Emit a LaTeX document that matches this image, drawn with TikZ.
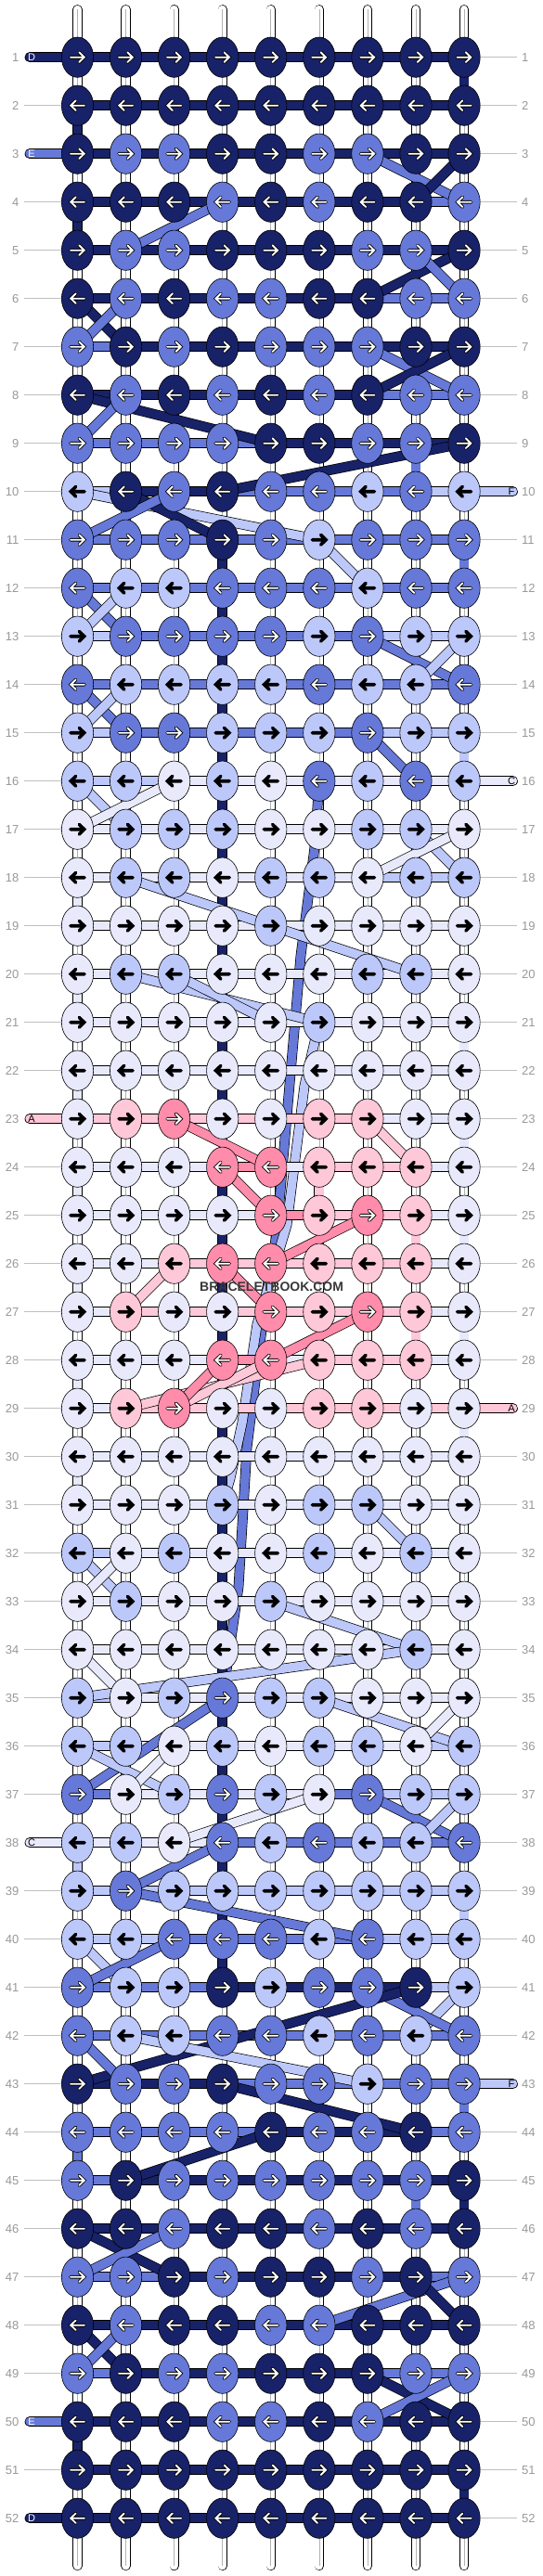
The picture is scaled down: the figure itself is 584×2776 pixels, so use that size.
\documentclass[tikz,border=0pt]{standalone}
\usepackage{fontspec}
\setmainfont{Liberation Sans}
\usetikzlibrary{shapes.geometric}

\definecolor{kN}{RGB}{24,34,104}
\definecolor{kM}{RGB}{102,121,216}
\definecolor{kL}{RGB}{189,200,250}
\definecolor{kW}{RGB}{232,234,252}
\definecolor{kP}{RGB}{255,200,216}
\definecolor{kR}{RGB}{255,140,170}
\colorlet{aN}{white}
\colorlet{aM}{white}
\colorlet{aR}{white}
\colorlet{aL}{black}
\colorlet{aW}{black}
\colorlet{aP}{black}

\pgfdeclarelayer{strips}
\pgfdeclarelayer{long}
\pgfdeclarelayer{bars}
\pgfdeclarelayer{diag}
\pgfsetlayers{strips,long,bars,diag,main}

\begin{document}
\begin{tikzpicture}[
  x=1pt, y=-1pt,
  knot/.style={ellipse, draw=black, line width=0.6,
    minimum width=34.3, minimum height=43.3, inner sep=0},
  bar/.style={draw=black, line width=0.7, double distance=9.4},
  entry/.style={bar, line cap=round},
  strip/.style={draw=black, line width=0.7, double=white,
    double distance=8.8, line cap=round},
  strip mid/.style={draw=black!30, line width=0.6},
  rownum/.style={font=\fontsize{13}{13}\selectfont, text=black!40, inner sep=0},
  guide/.style={draw=black!25, line width=1},
  tag/.style={font=\fontsize{11}{11}\selectfont, inner sep=0},
  stamp/.style={font=\bfseries\fontsize{14}{14}\selectfont, text=black!78, inner sep=0},
  glyph edge/.style={line width=3.6, black, line cap=round},
  glyph core/.style={line width=1.9, glyphcol, line cap=round},
  glyph/.pic={
    \draw[glyph edge] (-7.5,0) -- (7,0) (1.8,-5.3) -- (7.2,0) -- (1.8,5.3);
    \draw[glyph core] (-7.5,0) -- (7,0) (1.8,-5.3) -- (7.2,0) -- (1.8,5.3);
  },
]
  \useasboundingbox (0,0) rectangle (584,2776);

  % Base strings
  \begin{pgfonlayer}{strips}
    \fill[white] (0,0) rectangle (584,2776);
    \foreach \c in {1,...,9}{
      \coordinate (t-\c) at ({83.5+52.07*(\c-1)},10.2);
      \coordinate (b-\c) at ({83.5+52.07*(\c-1)},2765);
      \draw[strip] (t-\c) -- (b-\c);
      \draw[strip mid] (t-\c) -- (b-\c);
    }
  \end{pgfonlayer}

  % Knots
  \foreach \r/\ks in {
    1/{N,N,N,N,N,N,N,N,N}, 2/{N,N,N,N,N,N,N,N,N}, 3/{N,M,M,N,N,M,M,N,N},
    4/{N,N,N,M,N,M,N,N,M}, 5/{N,M,M,N,N,N,M,M,N}, 6/{N,M,N,M,M,N,N,M,M},
    7/{M,N,M,N,M,M,M,N,N}, 8/{N,M,N,M,N,M,N,M,M}, 9/{M,M,M,M,N,N,M,M,N},
    10/{L,N,M,N,M,M,L,M,L}, 11/{M,M,M,N,M,L,M,M,M}, 12/{M,L,L,M,M,M,L,M,M},
    13/{L,M,M,M,M,L,M,L,L}, 14/{M,L,L,L,L,M,L,L,M}, 15/{L,M,M,L,L,L,M,L,L},
    16/{L,L,W,L,W,M,L,M,L}, 17/{W,L,L,L,W,W,L,L,W}, 18/{W,L,L,W,L,L,W,L,L},
    19/{W,W,W,W,L,W,W,W,W}, 20/{W,L,L,W,W,W,L,L,W}, 21/{W,W,W,W,W,L,W,W,W},
    22/{W,W,W,W,W,W,W,W,W}, 23/{W,P,R,W,W,P,P,W,W}, 24/{W,W,W,R,R,P,P,P,W},
    25/{W,W,W,W,R,P,R,P,W}, 26/{W,W,P,R,R,P,P,P,W}, 27/{W,P,W,W,R,P,R,P,W},
    28/{W,W,W,R,R,P,P,P,W}, 29/{W,P,R,W,W,P,P,W,W}, 30/{W,W,W,W,W,W,W,W,W},
    31/{W,W,W,L,W,L,L,W,W}, 32/{L,W,L,W,W,L,W,L,W}, 33/{W,L,W,W,L,W,W,W,W},
    34/{W,W,W,W,W,W,W,L,W}, 35/{L,W,L,M,L,L,W,W,W}, 36/{L,L,W,L,W,L,L,W,L},
    37/{M,W,L,M,L,W,M,L,L}, 38/{L,L,W,M,L,M,L,L,M}, 39/{L,M,L,L,L,L,L,L,L},
    40/{L,L,M,M,M,L,M,L,L}, 41/{M,L,L,N,L,M,M,N,L}, 42/{M,L,L,M,M,L,M,L,M},
    43/{N,M,M,N,M,M,L,M,M}, 44/{M,M,M,M,N,M,M,N,M}, 45/{M,N,M,M,M,M,M,M,N},
    46/{N,N,M,N,N,M,N,M,N}, 47/{M,M,N,M,N,N,M,N,M}, 48/{N,M,N,N,M,M,N,N,N},
    49/{M,N,M,M,N,N,N,M,M}, 50/{N,N,N,M,M,N,M,N,N}, 51/{N,N,N,N,N,N,N,N,N},
    52/{N,N,N,N,N,N,N,N,N}}{
    \pgfmathtruncatemacro\dir{2*mod(\r,2)-1}
    \foreach \kc [count=\c] in \ks {
      \node[knot, fill=k\kc] (k-\r-\c) at ({83.5+52.07*(\c-1)},{61.7+52*(\r-1)}) {};
      \colorlet{glyphcol}{a\kc}
      \pic[xscale=\dir] at (k-\r-\c) {glyph};
    }
  }

  % Working strings
  \begin{pgfonlayer}{bars}
    \foreach \r/\bs in {
      1/{N,N,N,N,N,N,N,N}, 2/{N,N,N,N,N,N,N,N}, 3/{N,N,N,N,N,N,N,N},
      4/{N,N,N,N,N,N,N,M}, 5/{N,N,N,N,N,N,N,N}, 6/{N,N,N,N,N,N,M,M},
      7/{M,N,N,N,N,N,N,N}, 8/{N,N,N,N,N,N,M,M}, 9/{M,M,M,M,N,N,N,N},
      10/{L,N,N,M,M,M,M,L}, 11/{M,M,M,M,M,M,M,M}, 12/{M,M,M,M,M,M,M,M},
      13/{L,M,M,M,M,M,L,L}, 14/{M,M,M,M,M,M,M,M}, 15/{L,M,M,M,M,M,L,L},
      16/{L,L,W,W,W,W,W,W}, 17/{W,W,W,W,W,W,W,W}, 18/{W,W,W,W,W,W,L,L},
      19/{W,W,W,W,W,W,W,W}, 20/{W,W,W,W,W,W,W,W}, 21/{W,W,W,W,W,W,W,W},
      22/{W,W,W,W,W,W,W,W}, 23/{P,P,P,P,P,P,W,W}, 24/{W,W,W,R,W,P,P,W},
      25/{W,W,W,W,R,P,P,W}, 26/{W,W,P,P,P,P,P,W}, 27/{W,P,P,P,P,P,P,W},
      28/{W,W,W,R,W,P,P,W}, 29/{W,P,P,P,P,P,P,P}, 30/{W,W,W,W,W,W,W,W},
      31/{W,W,W,W,W,W,W,W}, 32/{L,W,W,W,W,W,W,W}, 33/{W,W,W,W,W,W,W,W},
      34/{W,W,W,W,W,W,W,W}, 35/{L,W,W,W,W,W,W,W}, 36/{L,W,W,W,W,W,W,L},
      37/{M,W,W,W,W,M,L,L}, 38/{W,W,W,M,M,M,M,M}, 39/{L,L,L,L,L,L,L,L},
      40/{L,L,M,M,M,M,L,L}, 41/{M,M,M,N,N,N,N,L}, 42/{M,M,M,M,M,M,M,M},
      43/{N,N,N,M,M,M,M,M}, 44/{M,M,M,M,N,N,N,M}, 45/{M,N,N,N,N,N,N,N},
      46/{N,N,N,N,N,N,N,N}, 47/{M,M,N,N,N,N,N,M}, 48/{N,N,N,N,N,N,N,N},
      49/{M,N,N,N,N,N,M,M}, 50/{N,N,N,N,N,N,N,N}, 51/{N,N,N,N,N,N,N,N},
      52/{N,N,N,N,N,N,N,N}}{
      \foreach \bc [count=\c] in \bs {
        \pgfmathtruncatemacro\cn{\c+1}
        \draw[bar, double=k\bc] (k-\r-\c.center) -- (k-\r-\cn.center);
      }
    }
    % Turns between rows
    \foreach \r/\c/\vc in {1/9/N, 2/1/N, 4/1/N, 9/8/M, 11/9/M, 15/9/L,
      18/1/W, 20/1/W, 21/9/W, 22/1/W, 23/9/W, 24/1/W, 25/9/W, 26/1/W,
      27/9/W, 28/1/W, 29/9/W, 30/1/W, 24/6/P, 25/8/P, 27/8/P, 38/1/L,
      39/9/L, 43/9/M, 44/1/M, 45/9/N, 45/8/M, 50/1/N, 51/9/N}{
      \pgfmathtruncatemacro\rn{\r+1}
      \draw[bar, double=k\vc] (k-\r-\c.center) -- (k-\rn-\c.center);
    }
    \foreach \r in {11,...,22,24,25,...,40}{
      \pgfmathtruncatemacro\rn{\r+1}
      \draw[bar, double=kN] (k-\r-4.center) -- (k-\rn-4.center);
    }
  \end{pgfonlayer}

  % Long runs
  \begin{pgfonlayer}{long}
    \draw[bar, double=kM] (k-16-6.center) -- (339,913) -- (324,1030) -- (298,1330)
      -- (287,1393) -- (266,1560) -- (257,1710) -- (k-35-4.center);
    \draw[bar, double=kL] (k-21-6.center) -- (328,1170) -- (309,1320) -- (277,1427)
      -- (261,1533) -- (248,1593) -- (k-31-4.center);
  \end{pgfonlayer}

  % Crossings
  \begin{pgfonlayer}{diag}
    \foreach \ra/\ca/\rb/\cb/\dc in {
      3/7/4/9/M, 3/9/4/8/N, 4/4/5/2/M, 5/9/6/7/N, 5/8/6/9/M, 6/1/7/2/N,
      6/2/7/1/M, 7/7/8/9/M, 7/9/8/7/N, 8/1/9/5/N, 8/2/9/1/M, 9/9/10/4/N,
      10/1/11/6/L, 10/2/11/4/N, 10/3/11/1/M, 11/6/12/7/L, 12/1/13/2/M,
      12/2/13/1/L, 13/7/14/9/M, 13/9/14/8/L, 14/1/15/2/M, 14/2/15/1/L,
      15/7/16/8/M, 16/1/17/2/L, 16/3/17/1/W, 17/8/18/9/L, 17/9/18/7/W,
      18/2/19/5/L, 19/5/20/8/L, 20/2/21/6/L, 20/3/21/5/L,
      23/3/24/5/R, 23/7/24/8/P, 24/4/25/5/R, 25/7/26/5/R, 26/3/27/2/P,
      26/4/27/5/R, 27/7/28/5/R, 28/6/29/2/P, 28/5/29/3/P, 28/4/29/3/R,
      31/7/32/8/L, 32/1/33/2/L, 32/2/33/1/W, 33/5/34/8/L, 34/1/35/2/W,
      34/8/35/1/L, 35/4/37/1/M, 35/6/36/9/L, 35/9/36/8/W, 36/1/37/3/L,
      36/3/37/2/W, 37/6/38/3/W, 37/7/38/9/M, 37/9/38/8/L, 38/4/39/2/M,
      39/2/40/7/M, 40/1/41/2/L, 40/3/41/1/M, 41/9/42/8/L, 41/7/42/9/M,
      41/8/43/1/N, 42/1/43/2/M, 42/2/43/7/L, 43/4/44/8/N, 44/5/45/2/N,
      46/1/47/3/N, 46/3/47/1/M, 47/9/48/6/M, 47/8/48/9/N, 48/1/49/2/N,
      48/2/49/1/M, 49/7/50/9/N, 49/9/50/7/M}{
      \draw[bar, double=k\dc] (k-\ra-\ca.center) -- (k-\rb-\cb.center);
    }
  \end{pgfonlayer}

  % Loose ends
  \foreach \r/\lt/\ec in {1/D/N, 3/E/M, 23/A/P, 38/C/W, 50/E/M, 52/D/N}{
    \coordinate (le-\r) at (32,{61.7+52*(\r-1)});
    \begin{pgfonlayer}{bars}
      \draw[entry, double=k\ec] (le-\r) -- (k-\r-1.center);
    \end{pgfonlayer}
    \node[tag, text=a\ec] (lt-\r) at (34,{61.7+52*(\r-1)}) {\lt};
  }
  \foreach \r/\lt/\ec in {10/F/L, 16/C/W, 29/A/P, 43/F/L}{
    \coordinate (re-\r) at (552.5,{61.7+52*(\r-1)});
    \begin{pgfonlayer}{bars}
      \draw[entry, double=k\ec] (k-\r-9.center) -- (re-\r);
    \end{pgfonlayer}
    \node[tag, text=a\ec] (rt-\r) at (551,{61.7+52*(\r-1)}) {\lt};
  }

  % Row numbers
  \foreach \r in {1,...,52}{
    \node[rownum, anchor=east] (ln-\r) at (20.5,{61.7+52*(\r-1)}) {\r};
    \node[rownum, anchor=west] (rn-\r) at (562,{61.7+52*(\r-1)}) {\r};
  }
  \foreach \r in {2,4,5,...,22,24,25,...,37,39,40,...,49,51}
    \draw[guide] ([xshift=5.5]ln-\r.east) -- (k-\r-1.west);
  \foreach \r in {1,...,9,11,12,...,15,17,18,...,28,30,31,...,42,44,45,...,52}
    \draw[guide] (k-\r-9.east) -- ([xshift=-5]rn-\r.west);

  \node[stamp] (wm) at (292.6,1387) {BRACELETBOOK.COM};
\end{tikzpicture}
\end{document}
